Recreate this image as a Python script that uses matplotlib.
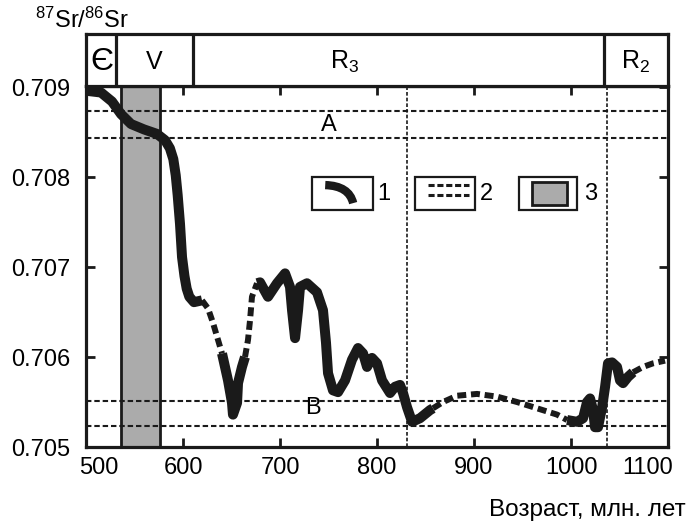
import matplotlib as mpl
import matplotlib.pyplot as plt
from matplotlib.patches import Rectangle, PathPatch
from matplotlib.path import Path
from matplotlib.transforms import ScaledTranslation

mpl.rcParams['font.family'] = ['Liberation Sans', 'DejaVu Sans']
mpl.rcParams['mathtext.fontset'] = 'custom'
mpl.rcParams['mathtext.rm'] = 'Liberation Sans'
mpl.rcParams['mathtext.it'] = 'Liberation Sans:italic'

# Sr isotope curve, traced segment by segment (age in Ma, 87Sr/86Sr)
seg_age = [
    [500, 515.5, 526.8, 536.1, 546.4, 559.8, 573.2, 581.5, 586.5, 590.0, 592.5,
     594.5, 596.9, 599.0, 601.5, 603.8, 606.5, 611.3, 619.6],
    [619.6, 625.8, 630.9, 636.1, 640.2],
    [640.2, 646.4, 650.5, 651.5, 655.7, 656.7, 660.8, 663.9],
    [663.9, 667.0, 669.1, 671.1, 676.3],
    [676.3, 679.4, 687.6, 696.9, 705.2, 710.3, 712.4, 715.5, 718.6, 720.6, 727.8,
     738.1, 744.3, 747.4, 749.5, 754.6, 759.8, 767.0, 774.2, 780.4, 785.6, 789.7,
     794.8, 800.0, 805.2, 813.4, 818.6, 823.7, 826.8, 831.0, 836.1, 844.3, 854.6, 857.7],
    [857.7, 868.0, 882.5, 903.1, 923.7, 944.3, 965.0, 985.6, 995.9],
    [995.9, 1006.2, 1012.4, 1016.5, 1019.6, 1022.7, 1024.7, 1027.8, 1032.0, 1035.1,
     1038.1, 1042.3, 1047.4, 1050.5, 1053.6, 1058.8, 1063.9],
    [1063.9, 1074.2, 1084.5, 1096.9],
]
seg_sr = [
    [0.70896, 0.70894, 0.70884, 0.70870, 0.70859, 0.70853, 0.70848, 0.70841, 0.70832,
     0.70820, 0.70802, 0.70780, 0.70748, 0.70711, 0.70690, 0.70676, 0.70667, 0.70661,
     0.70663],
    [0.70663, 0.70654, 0.70638, 0.70619, 0.70604],
    [0.70604, 0.70574, 0.70549, 0.70536, 0.70549, 0.70571, 0.70589, 0.70600],
    [0.70600, 0.70619, 0.70641, 0.70667, 0.70682],
    [0.70682, 0.70683, 0.70667, 0.70682, 0.70693, 0.70678, 0.70652, 0.70621, 0.70652,
     0.70678, 0.70682, 0.70672, 0.70652, 0.70616, 0.70582, 0.70563, 0.70561, 0.70574,
     0.70597, 0.70610, 0.70604, 0.70589, 0.70599, 0.70593, 0.70574, 0.70560, 0.70567,
     0.70569, 0.70560, 0.70544, 0.70528, 0.70532, 0.70541, 0.70543],
    [0.70543, 0.70550, 0.70557, 0.70559, 0.70556, 0.70550, 0.70543, 0.70536, 0.70530],
    [0.70530, 0.70528, 0.70532, 0.70550, 0.70554, 0.70541, 0.70522, 0.70522, 0.70544,
     0.70567, 0.70593, 0.70594, 0.70589, 0.70574, 0.70571, 0.70578, 0.70583],
    [0.70583, 0.70589, 0.70593, 0.70596],
]
seg_measured = [True, False, True, False, True, False, True, False]

# reference levels A and B, glaciation band, dotted boundaries
level_A = [0.70874, 0.70844]
level_B = [0.70551, 0.70523]
band = [536, 576]
dotted_x = [831, 1037]

# stratigraphic header
period_bounds = [531, 610, 1034]
period_names = ['Є', 'V', r'R$_{3}$', r'R$_{2}$']
period_xpos = [516, 570, 767, 1067]

x_ticks = [500, 600, 700, 800, 900, 1000, 1100]
y_ticks = [0.705, 0.706, 0.707, 0.708, 0.709]

fig = plt.figure(figsize=(6.88, 5.29), dpi=100)
L, B, W, H = 0.125, 0.155, 0.846, 0.682
ax = fig.add_axes([L, B, W, H])
axh = fig.add_axes([L, B + H, W, 0.099])

ax.set_xlim(500, 1100)
ax.set_ylim(0.705, 0.70901)

ax.axvspan(band[0], band[1], facecolor='#ababab', edgecolor='none', zorder=1)
for xb in band:
    ax.axvline(xb, color='#1a1a1a', lw=2, zorder=2)

for yv in level_A + level_B:
    ax.axhline(yv, color='#1a1a1a', lw=1.5, dashes=(2.6, 1.4), zorder=3)
for xv in dotted_x:
    ax.axvline(xv, color='#1a1a1a', lw=1.2, dashes=(2.2, 1.2), zorder=3)

for xs, ys, meas in zip(seg_age, seg_sr, seg_measured):
    if meas:
        ax.plot(xs, ys, color='#1a1a1a', lw=7.2, solid_capstyle='butt',
                solid_joinstyle='round', zorder=4)
    else:
        ax.plot(xs, ys, color='#1a1a1a', lw=4.3, dashes=(1.5, 0.8),
                dash_capstyle='butt', zorder=4)

ax.text(750, 0.70858, 'A', fontsize=17, ha='center', va='center', zorder=5)
ax.text(734, 0.70543, 'B', fontsize=17, ha='center', va='center', zorder=5)

# legend boxes
for x0, x1 in [(0.388, 0.493), (0.565, 0.668), (0.744, 0.844)]:
    ax.add_patch(Rectangle((x0, 0.657), x1 - x0, 0.091, transform=ax.transAxes,
                           facecolor='white', edgecolor='#1a1a1a', lw=1.6, zorder=6))
arc = Path([(0.411, 0.726), (0.452, 0.724), (0.459, 0.676)],
           [Path.MOVETO, Path.CURVE3, Path.CURVE3])
ax.add_patch(PathPatch(arc, transform=ax.transAxes, fill=False, lw=6,
                       ec='#1a1a1a', capstyle='butt', zorder=7))
for yy in [0.726, 0.698]:
    ax.plot([0.588, 0.658], [yy, yy], transform=ax.transAxes, color='#1a1a1a',
            lw=2.2, dashes=(2.0, 0.9), zorder=7)
ax.add_patch(Rectangle((0.766, 0.670), 0.060, 0.064, transform=ax.transAxes,
                       facecolor='#ababab', edgecolor='#1a1a1a', lw=2, zorder=7))
for xt, s in [(0.501, '1'), (0.677, '2'), (0.855, '3')]:
    ax.text(xt, 0.702, s, transform=ax.transAxes, fontsize=17, ha='left',
            va='center', zorder=7)

ax.set_xticks(x_ticks)
ax.set_xticklabels([str(v) for v in x_ticks])
ax.set_yticks(y_ticks)
ax.set_yticklabels(['%.3f' % v for v in y_ticks])
ax.tick_params(direction='in', length=6.5, width=2, top=True, right=True,
               labelsize=17, color='#1a1a1a')
ax.tick_params(axis='x', pad=7)
ax.tick_params(axis='y', pad=11)
xl = ax.get_xticklabels()
xl[0].set_transform(xl[0].get_transform() + ScaledTranslation(9 / 72, 0, fig.dpi_scale_trans))
xl[-1].set_transform(xl[-1].get_transform() + ScaledTranslation(-15 / 72, 0, fig.dpi_scale_trans))
for sp in ax.spines.values():
    sp.set_linewidth(2.3)
    sp.set_color('#1a1a1a')

axh.set_xlim(500, 1100)
axh.set_ylim(0, 1)
axh.set_xticks([])
axh.set_yticks([])
for sp in axh.spines.values():
    sp.set_linewidth(2.3)
    sp.set_color('#1a1a1a')
for xb in period_bounds:
    axh.axvline(xb, color='#1a1a1a', lw=2.3)
for xp, name in zip(period_xpos, period_names):
    fs = 23 if name == 'Є' else 18
    axh.text(xp, 0.47, name, fontsize=fs, ha='center', va='center')

fig.text(0.051, 0.962, r'$^{87}$Sr/$^{86}$Sr', fontsize=17, ha='left', va='center')
fig.text(0.996, 0.036, 'Возраст, млн. лет', fontsize=17.5, ha='right', va='center')

fig.savefig('out.png', dpi=100)
